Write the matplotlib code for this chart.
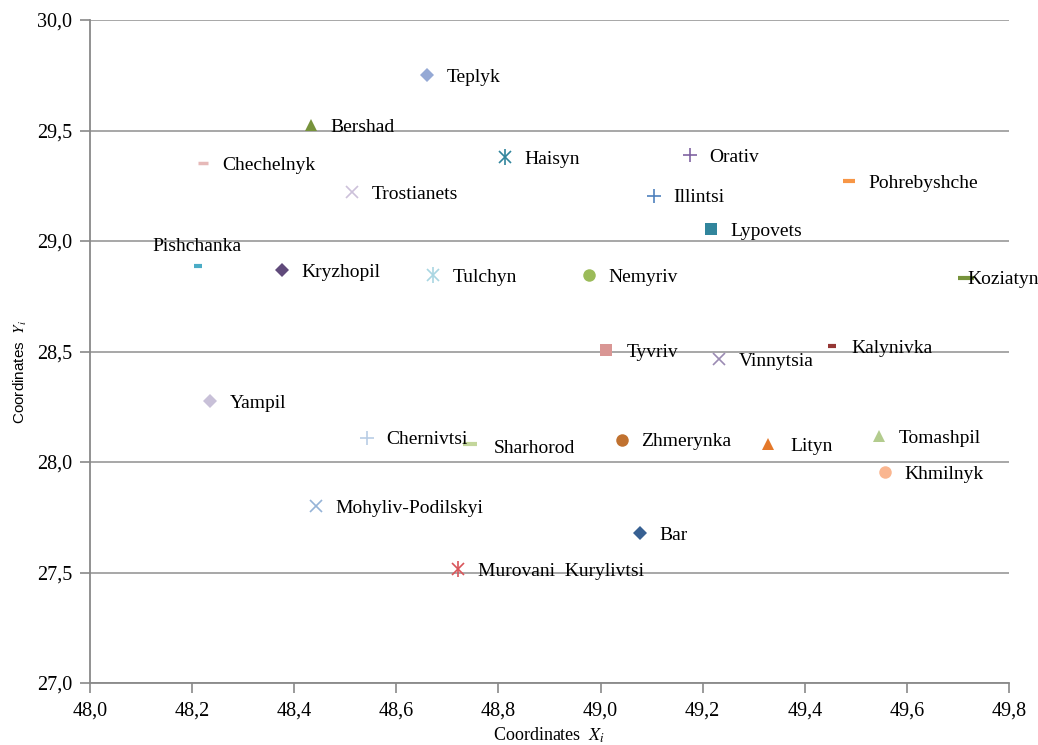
import matplotlib
matplotlib.use("Agg")
import matplotlib.pyplot as plt
import matplotlib.ticker as tkr

# ---- data ----
towns = ["Teplyk", "Bershad", "Chechelnyk", "Trostianets", "Haisyn", "Orativ",
         "Illintsi", "Pohrebyshche", "Lypovets", "Pishchanka", "Kryzhopil",
         "Tulchyn", "Nemyriv", "Koziatyn", "Tyvriv", "Vinnytsia", "Kalynivka",
         "Yampil", "Chernivtsi", "Sharhorod", "Zhmerynka", "Lityn", "Tomashpil",
         "Khmilnyk", "Mohyliv-Podilskyi", "Bar", "Murovani  Kurylivtsi"]
x_coords = [48.660, 48.433, 48.221, 48.513, 48.813, 49.175,
            49.105, 49.486, 49.216, 48.212, 48.376,
            48.672, 48.977, 49.716, 49.011, 49.232, 49.453,
            48.235, 48.542, 48.744, 49.042, 49.328, 49.545,
            49.557, 48.443, 49.077, 48.721]
y_coords = [29.751, 29.525, 29.353, 29.222, 29.380, 29.389,
            29.204, 29.271, 29.054, 28.887, 28.869,
            28.846, 28.846, 28.833, 28.507, 28.466, 28.525,
            28.276, 28.109, 28.081, 28.100, 28.081, 28.118,
            27.955, 27.801, 27.679, 27.516]
x_ticks = [48.0, 48.2, 48.4, 48.6, 48.8, 49.0, 49.2, 49.4, 49.6, 49.8]
y_ticks = [27.0, 27.5, 28.0, 28.5, 29.0, 29.5, 30.0]

# ---- marker style per town (marker, colour, size, edge width) ----
styles = [("D", "#95A9D5", 7, 0), ("^", "#77933C", 9, 0), ("_", "#E6B9B8", 7, 2.5),
          ("x", "#CCC1DA", 9, 1.2), ("*", "#31859C", 0, 0), ("+", "#8064A2", 10, 1.2),
          ("+", "#4F81BD", 10, 1.2), ("_", "#F79646", 9, 3), ("s", "#31859C", 9, 0),
          ("_", "#4BACC6", 6, 3), ("D", "#604A7B", 7, 0), ("*", "#A9D6E2", 0, 0),
          ("o", "#9BBB59", 9, 0), ("_", "#77933C", 12, 3), ("s", "#D99694", 9, 0),
          ("x", "#9B8BB3", 9, 1.2), ("_", "#953735", 6, 3), ("D", "#C8C0D8", 7, 0),
          ("+", "#B9CDE5", 10, 1.2), ("_", "#C3D69B", 10, 3), ("o", "#C0712F", 9, 0),
          ("^", "#E4782A", 9, 0), ("^", "#B3CC8E", 9, 0), ("o", "#FAB690", 9, 0),
          ("x", "#95B3D7", 9, 1.2), ("D", "#376092", 7, 0), ("*", "#D9555A", 0, 0)]

# label offsets in points (default: to the right)
label_offset = {"Pishchanka": (-33, 14), "Koziatyn": (1, -1), "Sharhorod": (17, -3),
                "Lityn": (16, -1.5), "Tyvriv": (15, -1.5)}

plt.rcParams["font.family"] = ["Liberation Serif", "DejaVu Serif"]
plt.rcParams["mathtext.fontset"] = "stix"

fig = plt.figure(figsize=(10.38, 7.45), dpi=100)
ax = fig.add_axes([90 / 1038, 1 - 683 / 745, 919 / 1038, 663 / 745])

for name, xv, yv, st in zip(towns, x_coords, y_coords, styles):
    mk, col, ms, mew = st
    if mk == "*":
        # six-armed asterisk: vertical bar + x
        ax.plot(xv, yv, marker="|", color=col, ms=11, mew=1.2, ls="none")
        ax.plot(xv, yv, marker="x", color=col, ms=9, mew=1.2, ls="none")
    elif mk in ("+", "x", "_"):
        ax.plot(xv, yv, marker=mk, color=col, ms=ms, mew=mew, ls="none")
    else:
        ax.plot(xv, yv, marker=mk, color=col, ms=ms, mew=0, ls="none")
    dx, dy = label_offset.get(name, (14, -1.5))
    ax.annotate(name, (xv, yv), xytext=(dx, dy), textcoords="offset points",
                fontsize=14, va="center", ha="left", annotation_clip=False,
                clip_on=False)

ax.set_xlim(48.0, 49.8)
ax.set_ylim(27.0, 30.0)
ax.set_xticks(x_ticks)
ax.set_yticks(y_ticks)
comma = tkr.FuncFormatter(lambda v, p: f"{v:.1f}".replace(".", ","))
ax.xaxis.set_major_formatter(comma)
ax.yaxis.set_major_formatter(comma)
ax.tick_params(axis="both", labelsize=14.5, color="#898989", length=7, width=1.2,
               pad=6)
ax.yaxis.grid(True, color="#A0A0A0", lw=1.3)
ax.set_axisbelow(True)
for s in ["top", "right"]:
    ax.spines[s].set_visible(False)
for s in ["left", "bottom"]:
    ax.spines[s].set_color("#898989")
    ax.spines[s].set_linewidth(1.3)

ax.set_xlabel("Coordinates  $X_i$", fontsize=13, labelpad=4)
fig.text(0.02, 0.5, "Coordinates  $Y_i$", rotation=90, va="center", ha="center",
         fontsize=11, family=["Liberation Sans", "DejaVu Sans"])

plt.savefig("out.png", dpi=100)
